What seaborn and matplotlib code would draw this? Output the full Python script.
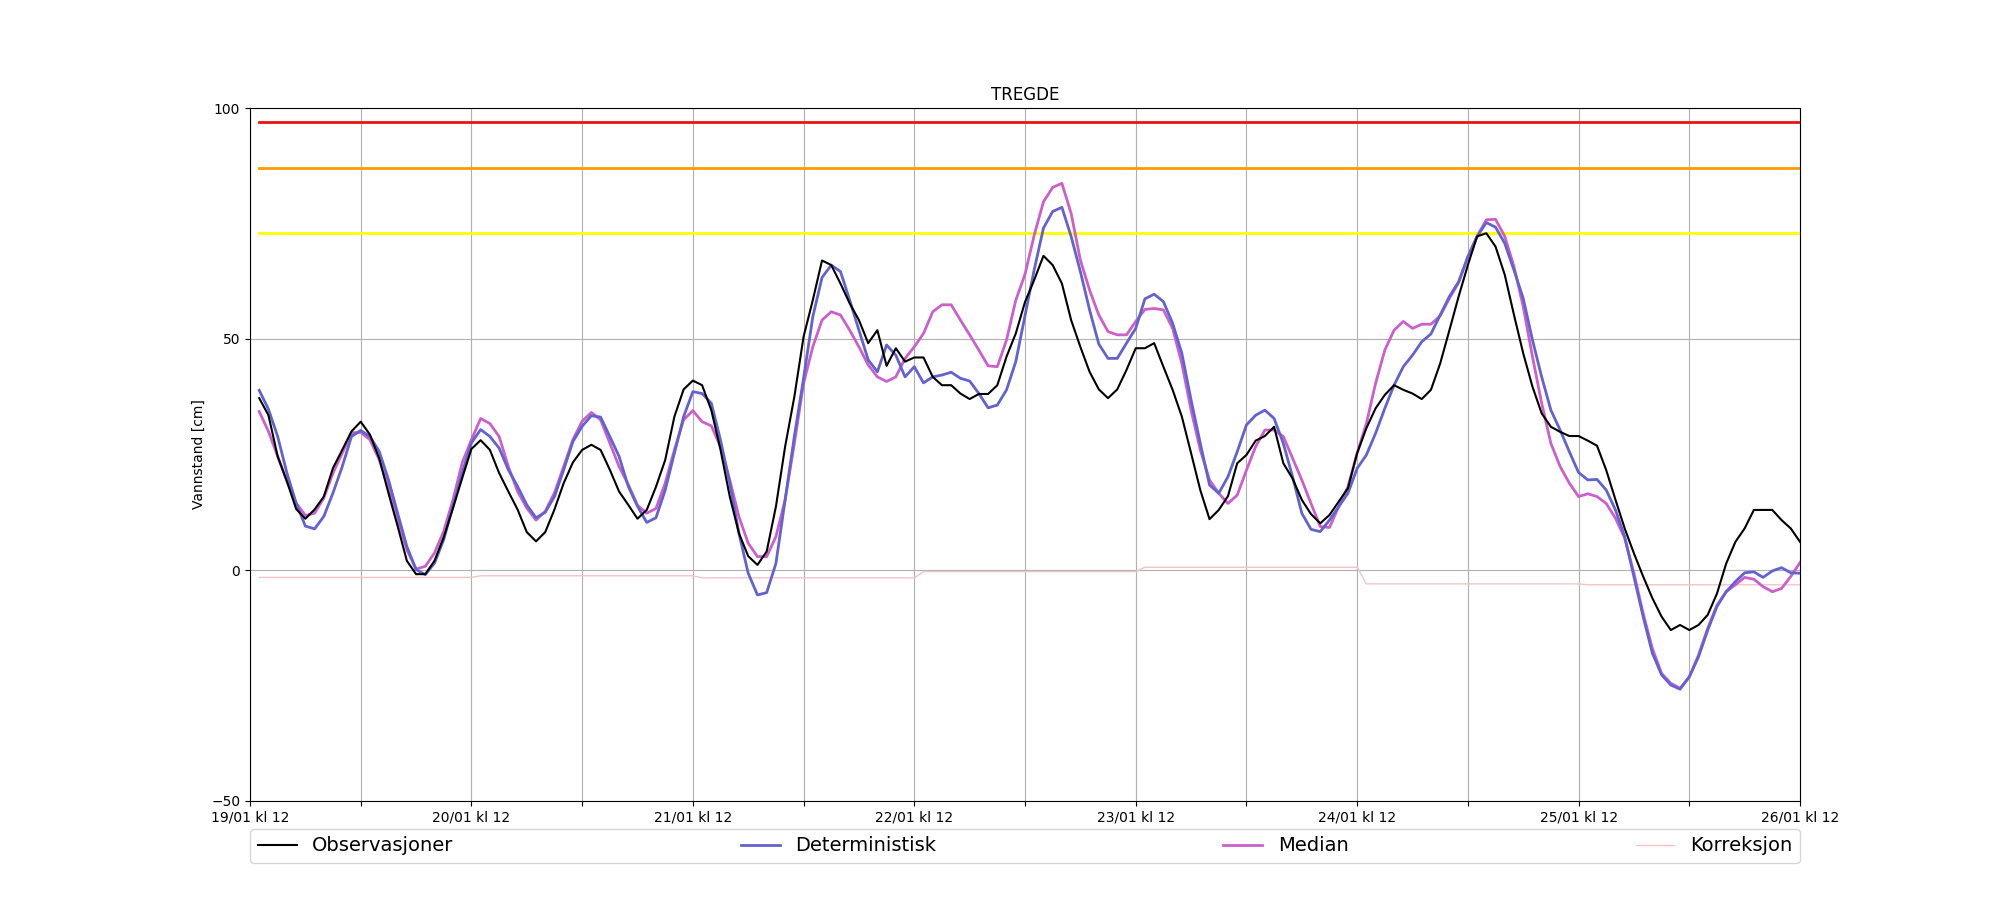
import pandas as pd
import numpy as np
import seaborn as sns
import matplotlib
matplotlib.use("Agg")
import matplotlib.pyplot as plt
import matplotlib.dates as mdates

# timeseries for TREGDE, hourly from 19/01 kl 13 til 26/01 kl 12
start = pd.Timestamp("2024-01-19 13:00")
tider = pd.date_range(start, periods=168, freq="h")

observasjoner = [
    37.2, 33.5, 24.6, 19.2, 13.2, 11.1, 13.1, 15.9, 22.1, 26.0, 30.0, 32.1,
    29.3, 24.2, 16.7, 9.5, 2.0, -0.9, -0.9, 2.0, 7.1, 13.4, 19.9, 26.2,
    28.1, 26.0, 21.0, 17.0, 13.1, 8.2, 6.2, 8.2, 13.1, 18.8, 23.3, 26.0,
    27.1, 26.0, 21.7, 17.0, 14.1, 11.1, 13.0, 18.0, 23.8, 33.2, 39.1, 41.0,
    40.0, 34.6, 26.0, 15.9, 7.9, 3.0, 1.1, 4.0, 13.7, 26.7, 37.5, 50.5,
    58.4, 67.0, 66.0, 62.0, 57.7, 54.1, 49.1, 51.9, 44.2, 48.0, 45.1, 46.0,
    46.0, 41.8, 40.0, 40.0, 38.2, 37.0, 38.1, 38.1, 40.0, 46.2, 51.2, 58.0,
    62.8, 68.0, 66.0, 62.0, 54.1, 48.3, 42.9, 39.1, 37.2, 39.1, 43.3, 48.0,
    48.0, 49.1, 44.0, 39.0, 33.2, 25.3, 17.3, 11.0, 13.0, 16.0, 23.1, 24.9,
    28.0, 29.0, 31.0, 23.1, 19.8, 15.2, 12.1, 10.1, 11.9, 14.8, 17.7, 25.3,
    30.7, 35.0, 37.9, 40.0, 39.0, 38.2, 37.0, 39.0, 44.7, 51.9, 59.2, 66.0,
    72.2, 72.9, 70.0, 63.9, 55.2, 46.9, 39.7, 33.9, 31.0, 29.9, 29.0, 29.0,
    28.0, 26.9, 21.6, 15.2, 9.0, 3.6, -1.4, -6.1, -10.1, -13.0, -11.9, -13.0,
    -11.9, -9.7, -5.1, 1.4, 6.1, 9.0, 13.0, 13.0, 13.0, 10.8, 9.0, 6.1,
]

deterministisk = [
    38.9, 34.8, 28.9, 21.0, 14.5, 9.5, 8.9, 11.6, 16.7, 22.4, 28.9, 30.2,
    28.9, 25.7, 19.6, 12.3, 5.1, 0.1, -1.0, 1.5, 6.6, 13.8, 21.0, 27.5,
    30.4, 28.9, 26.4, 21.7, 18.1, 14.1, 11.3, 12.5, 15.9, 21.7, 27.8, 31.1,
    33.4, 33.1, 28.9, 24.6, 18.1, 13.8, 10.3, 11.3, 17.3, 25.3, 33.2, 38.6,
    38.2, 36.1, 28.1, 18.8, 7.9, -0.7, -5.4, -4.9, 1.4, 15.2, 28.9, 41.5,
    54.8, 63.3, 66.0, 64.6, 58.4, 51.9, 45.5, 42.9, 48.7, 46.5, 41.8, 44.0,
    40.5, 41.8, 42.2, 42.8, 41.5, 40.9, 38.2, 35.1, 35.7, 39.0, 45.1, 55.0,
    65.0, 74.0, 77.6, 78.5, 72.2, 64.6, 56.3, 48.9, 45.8, 45.8, 49.1, 52.3,
    58.7, 59.7, 58.1, 53.4, 46.9, 36.8, 27.4, 18.4, 16.6, 20.2, 25.6, 31.4,
    33.5, 34.6, 32.8, 27.4, 20.2, 12.3, 8.8, 8.3, 10.8, 13.7, 16.6, 22.0,
    24.9, 29.6, 35.0, 40.0, 44.0, 46.5, 49.4, 51.1, 55.2, 59.2, 62.4, 67.8,
    72.2, 75.2, 74.2, 70.7, 64.9, 58.8, 49.8, 41.8, 34.6, 30.3, 25.6, 21.1,
    19.5, 19.6, 17.3, 13.0, 7.2, -1.4, -10.1, -18.0, -22.7, -24.9, -25.8, -23.1,
    -18.8, -13.0, -7.9, -4.7, -2.5, -0.6, -0.4, -1.6, -0.2, 0.5, -0.6, -0.7,
]

median = [
    34.3, 30.0, 24.6, 19.2, 14.5, 11.8, 12.3, 15.6, 21.0, 25.3, 29.7, 29.8,
    28.2, 23.9, 18.1, 10.9, 4.4, 0.2, 0.8, 3.7, 8.4, 15.2, 23.2, 28.2,
    32.8, 31.7, 28.9, 22.4, 17.0, 13.4, 10.8, 12.7, 16.7, 22.4, 28.2, 32.2,
    34.1, 32.5, 27.5, 22.4, 18.5, 14.0, 12.3, 13.3, 18.8, 26.0, 32.5, 34.5,
    32.1, 31.2, 26.7, 19.5, 11.5, 5.8, 2.9, 2.9, 7.2, 15.2, 27.4, 40.4,
    48.3, 54.1, 55.9, 55.2, 51.9, 48.3, 44.4, 41.8, 40.8, 41.8, 45.8, 48.3,
    51.2, 55.9, 57.4, 57.4, 54.1, 50.9, 47.6, 44.2, 44.0, 49.8, 58.4, 64.0,
    72.5, 79.7, 82.8, 83.7, 77.2, 67.1, 60.6, 55.2, 51.6, 50.9, 50.9, 53.8,
    56.4, 56.6, 56.3, 52.3, 44.7, 34.6, 26.0, 19.5, 16.6, 14.4, 16.2, 21.6,
    26.7, 30.3, 30.3, 28.9, 24.2, 19.5, 14.4, 9.4, 9.2, 13.7, 18.0, 25.3,
    31.7, 40.4, 47.6, 51.9, 53.8, 52.3, 53.2, 53.2, 55.0, 58.8, 62.2, 67.8,
    72.2, 75.8, 75.9, 72.2, 65.7, 57.0, 46.2, 36.1, 27.4, 22.4, 18.8, 15.9,
    16.5, 15.9, 14.4, 11.2, 6.9, -0.7, -9.4, -17.0, -22.4, -24.5, -25.6, -23.2,
    -18.4, -12.6, -7.6, -4.7, -3.2, -1.6, -2.0, -3.6, -4.7, -4.0, -1.4, 1.6,
]

# korreksjon er konstant per døgn (kl 13 - kl 12)
korreksjon_dogn = [-1.6, -1.25, -1.7, -0.35, 0.6, -3.0, -3.2]
korreksjon = np.repeat(korreksjon_dogn, 24)

# varslingsnivaa
nivaa_rod = 97
nivaa_oransje = 87
nivaa_gul = 73

df = pd.DataFrame({
    "tid": tider,
    "Observasjoner": observasjoner,
    "Deterministisk": deterministisk,
    "Median": median,
    "Korreksjon": korreksjon,
})

fig, ax = plt.subplots(figsize=(20, 9), dpi=100)

ax.plot(df["tid"], [nivaa_rod] * len(df), color="#ee1111", lw=2)
ax.plot(df["tid"], [nivaa_oransje] * len(df), color="#ff9900", lw=2)
ax.plot(df["tid"], [nivaa_gul] * len(df), color="#ffff00", lw=2)

sns.lineplot(data=df, x="tid", y="Korreksjon", color="#f2c4c8", lw=1, ax=ax, label="Korreksjon")
sns.lineplot(data=df, x="tid", y="Median", color="#cc5fcc", lw=2, ax=ax, label="Median")
sns.lineplot(data=df, x="tid", y="Deterministisk", color="#6262d0", lw=2, ax=ax, label="Deterministisk")
sns.lineplot(data=df, x="tid", y="Observasjoner", color="black", lw=1.5, ax=ax, label="Observasjoner")

ax.set_xlim(pd.Timestamp("2024-01-19 12:00"), pd.Timestamp("2024-01-26 12:00"))
ax.set_ylim(-50, 100)
ax.set_yticks([-50, 0, 50, 100])
ax.xaxis.set_major_locator(mdates.HourLocator(byhour=[0, 12]))


def tidslabel(x, pos):
    t = mdates.num2date(x)
    if t.hour == 12:
        return t.strftime("%d/%m kl 12")
    return ""


ax.xaxis.set_major_formatter(plt.FuncFormatter(tidslabel))
ax.grid(True)
ax.set_xlabel("")
ax.set_ylabel("Vannstand [cm]")
ax.set_title("TREGDE")

handles, labels = ax.get_legend_handles_labels()
rekkefolge = ["Observasjoner", "Deterministisk", "Median", "Korreksjon"]
hmap = dict(zip(labels, handles))
ax.legend([hmap[l] for l in rekkefolge], rekkefolge, loc="upper left",
          bbox_to_anchor=(0., -0.14, 1., 0.1), mode="expand", ncol=4,
          fontsize=14, borderaxespad=0.)

plt.savefig("out.png")
